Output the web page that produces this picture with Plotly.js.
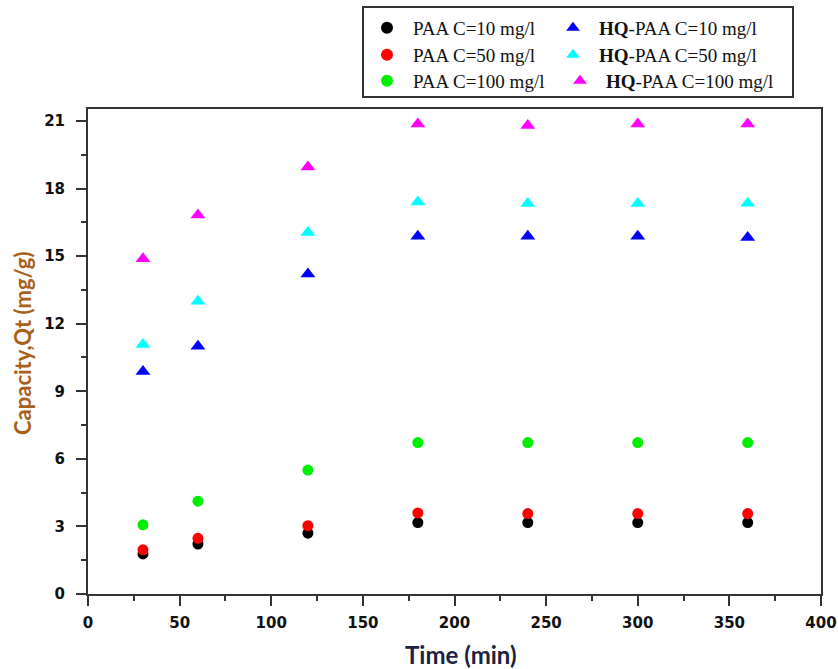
<!DOCTYPE html>
<html>
<head>
<meta charset="utf-8">
<script src="https://cdn.plot.ly/plotly-3.0.1.min.js"></script>
<style>html,body{margin:0;padding:0;background:#fff;}#chart{width:838px;height:669px;}</style>
</head>
<body>
<div id="chart"></div>
<script>
// Time (min)
const time = [30, 60, 120, 180, 240, 300, 360];
// Capacity Qt (mg/g)
const paa10   = [1.78, 2.22, 2.70, 3.17, 3.17, 3.17, 3.17];
const paa50   = [1.96, 2.47, 3.03, 3.60, 3.57, 3.57, 3.57];
const paa100  = [3.07, 4.12, 5.50, 6.72, 6.72, 6.72, 6.72];
const hq10    = [9.88, 11.00, 14.20, 15.88, 15.88, 15.88, 15.83];
const hq50    = [11.08, 13.00, 16.05, 17.40, 17.33, 17.33, 17.35];
const hq100   = [14.88, 16.82, 18.95, 20.86, 20.80, 20.86, 20.86];
const names = ['PAA C=10 mg/l','PAA C=50 mg/l','PAA C=100 mg/l',
               '<b>HQ</b>-PAA C=10 mg/l','<b>HQ</b>-PAA C=50 mg/l','<b>HQ</b>-PAA C=100 mg/l'];
const xTicks = [0,50,100,150,200,250,300,350,400];
const yTicks = [0,3,6,9,12,15,18,21];
const xTitle = 'Time (min)';
const yTitle = 'Capacity,Qt (mg/g)';

const colors = ['#000000','#ff0000','#00ee00','#0000ff','#00ffff','#ff00ff'];
const series = [paa10, paa50, paa100, hq10, hq50, hq100];
const legendIds = ['legend','legend2','legend3','legend4','legend5','legend6'];

const traces = series.map((ys, i) => ({
  x: time, y: ys, type: 'scatter', mode: 'markers', name: names[i],
  legend: legendIds[i],
  marker: {
    color: colors[i],
    symbol: i < 3 ? 'circle' : 'triangle-up',
    size: i < 3 ? 11 : 13,
    line: {width: 0}
  }
}));

const W = 838, H = 669, L = 88, R = 17, T = 109, B = 75;
const pw = W - L - R, ph = H - T - B;
const px = v => (v - L) / pw;
const py = v => (H - B - v) / ph;

const legFont = {family: '"Liberation Serif", "Times New Roman", serif', size: 19, color: '#111'};
const tickFont = {family: '"DejaVu Sans", Arial, sans-serif', size: 15, color: '#111', weight: 'bold'};
const titleFamily = 'Lato, "Open Sans", sans-serif';

const axisCommon = {
  ticks: 'outside', ticklen: 10, tickwidth: 2, tickcolor: '#333',
  showline: true, linecolor: '#333', linewidth: 2, mirror: true,
  showgrid: false, zeroline: false, tickfont: tickFont
};

// legend entry placement (pixel positions of marker centre) - layout only
const legPos = [[387, 28], [387, 55], [387, 81], [573, 28], [573, 55], [580, 81]];

const layout = {
  width: W, height: H,
  margin: {l: L, r: R, t: T, b: B, autoexpand: false},
  paper_bgcolor: '#fff', plot_bgcolor: '#fff',
  showlegend: true,
  xaxis: Object.assign({}, axisCommon, {
    range: [0, 400], tickvals: xTicks, ticklabelstandoff: 4,
    minor: {dtick: 25, ticks: 'outside', ticklen: 5, tickwidth: 2, tickcolor: '#333', showgrid: false}
  }),
  yaxis: Object.assign({}, axisCommon, {
    range: [0, 21.53], tickvals: yTicks, ticklabelstandoff: 8,
    minor: {dtick: 1.5, ticks: 'outside', ticklen: 5, tickwidth: 2, tickcolor: '#333', showgrid: false}
  }),
  annotations: [
    {text: xTitle, xref: 'paper', yref: 'paper', x: px(461), y: py(654),
     xanchor: 'center', yanchor: 'middle', showarrow: false,
     font: {family: titleFamily, size: 24, color: '#1c2340', weight: 'bold'}},
    {text: yTitle, xref: 'paper', yref: 'paper', x: px(22), y: py(344),
     xanchor: 'center', yanchor: 'middle', showarrow: false, textangle: -90,
     font: {family: titleFamily, size: 22, color: '#a8601a', weight: 'bold'}}
  ],
  shapes: [{
    type: 'rect', xref: 'paper', yref: 'paper',
    x0: px(363), x1: px(793), y0: py(97), y1: py(7),
    line: {color: '#333', width: 2}, fillcolor: 'rgba(0,0,0,0)'
  }]
};

legendIds.forEach((id, i) => {
  layout[id] = {
    x: px(legPos[i][0] - 26), y: py(legPos[i][1]), xanchor: 'left', yanchor: 'middle',
    bgcolor: 'rgba(0,0,0,0)', borderwidth: 0, font: legFont,
    itemwidth: 42, itemsizing: 'constant'
  };
});

Plotly.newPlot('chart', traces, layout, {displayModeBar: false, staticPlot: true});
</script>
</body>
</html>
